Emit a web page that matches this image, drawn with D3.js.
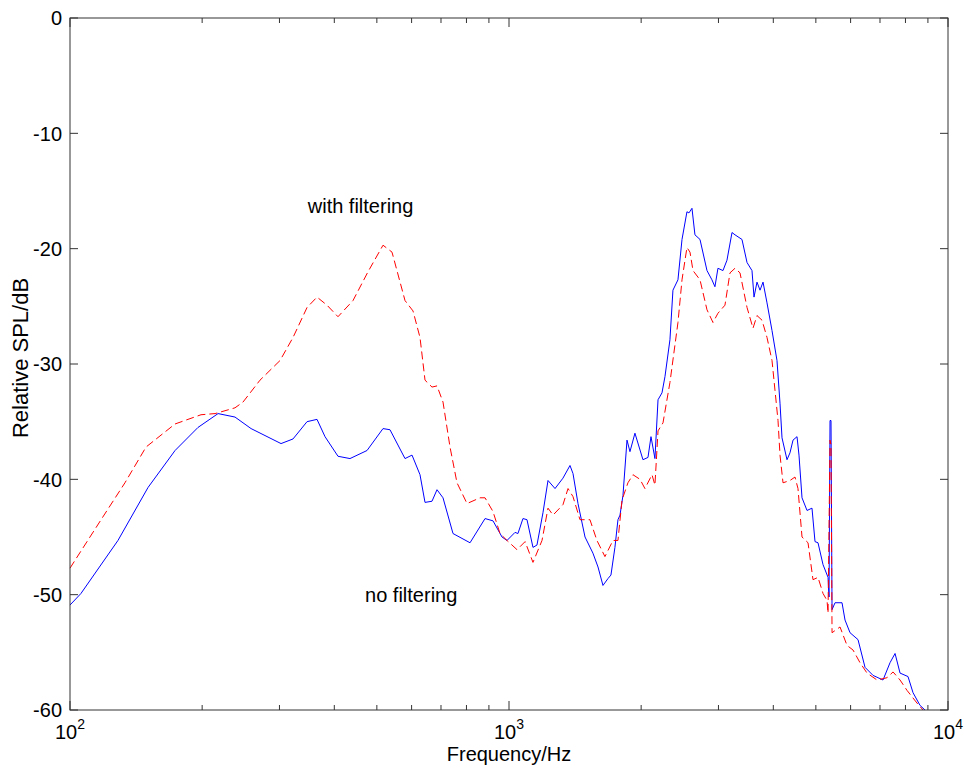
<!DOCTYPE html>
<html>
<head>
<meta charset="utf-8">
<script src="https://cdn.jsdelivr.net/npm/d3@7"></script>
<style>
  body { margin: 0; background: #fff; }
  text { font-family: "Liberation Sans", Arial, sans-serif; fill: #000; }
</style>
</head>
<body>
<div id="chart"></div>
<script>
// --- data ---
const freqNo = [100, 105.9, 128.6, 150.6, 173.5, 195.7, 217.4, 237.6, 258.5, 302.5, 322.1, 346.7, 365.3, 381.0, 407.8,
  434.3, 474.9, 516.4, 535.7, 579.6, 601.3, 627.0, 643.7, 667.7, 685.5, 707.4, 745.5, 815.1, 881.9, 919.6, 964.0,
  989.6, 1032, 1048, 1076, 1099, 1134, 1158, 1195, 1227, 1273, 1327, 1377, 1399, 1436, 1490, 1553, 1595, 1637,
  1681, 1707, 1743, 1771, 1790, 1818, 1857, 1886, 1936, 2019, 2073, 2106, 2150, 2185, 2231, 2266, 2326, 2363,
  2426, 2478, 2543, 2570, 2611, 2652, 2723, 2825, 2899, 2945, 2992, 3072, 3137, 3221, 3272, 3394, 3485, 3577,
  3615, 3672, 3731, 3790, 3870, 3973, 4078, 4143, 4187, 4298, 4366, 4436, 4530, 4577, 4650, 4774, 4900, 4978,
  5057, 5192, 5330, 5358, 5386, 5414, 5443, 5529, 5736, 5827, 5982, 6238, 6471, 6749, 7112, 7378, 7575, 7776,
  8108, 8324, 8635, 8865];
const splNo = [-50.9, -49.9, -45.3, -40.7, -37.5, -35.5, -34.3, -34.6, -35.6, -36.9, -36.5, -35.0, -34.8, -36.3, -38.0,
  -38.2, -37.5, -35.6, -35.7, -38.2, -37.9, -39.6, -42.0, -41.9, -40.9, -41.6, -44.7, -45.5, -43.4, -43.6, -45.0,
  -45.3, -44.6, -44.7, -43.4, -43.5, -45.9, -45.7, -42.9, -40.1, -40.8, -39.9, -38.8, -39.5, -42.1, -45.0, -46.4, -47.6, -49.2,
  -48.6, -48.3, -45.9, -43.5, -43.1, -41.4, -36.6, -37.6, -36.0, -38.3, -38.1, -36.3, -38.2, -33.1, -32.5, -31.1, -27.9, -23.6,
  -22.7, -19.2, -16.8, -16.9, -16.5, -18.8, -19.2, -21.9, -22.7, -23.3, -21.7, -21.9, -21.0, -18.6, -18.8, -19.2, -21.2, -21.9,
  -24.2, -22.9, -23.6, -22.9, -24.7, -27.1, -29.7, -33.4, -36.4, -38.3, -37.7, -36.6, -36.3, -37.9, -41.6, -42.7, -42.5, -45.4,
  -45.5, -47.4, -48.5, -50.2, -34.9, -34.9, -51.3, -50.7, -50.7, -52.2, -53.3, -53.9, -56.3, -57.0, -57.4, -55.9, -55.1, -56.8,
  -57.1, -58.5, -59.6, -60.0];

const freqWith = [100, 117.7, 133.4, 149.0, 173.5, 198.8, 214.0, 237.6, 247.8, 270.9, 300.9, 322.1, 346.7, 365.3, 385.0,
  407.8, 441.2, 477.4, 516.4, 541.4, 579.6, 604.4, 627.0, 643.7, 667.7, 685.5, 707.4, 733.9, 761.3, 802.4, 859.0,
  881.9, 919.6, 953.9, 989.6, 1043, 1088, 1134, 1189, 1227, 1260, 1327, 1363, 1399, 1451, 1529, 1586, 1654, 1725,
  1771, 1809, 1866, 1916, 1988, 2040, 2117, 2150, 2185, 2243, 2326, 2426, 2478, 2543, 2584, 2625, 2723, 2825,
  2915, 2992, 3104, 3187, 3272, 3359, 3485, 3596, 3672, 3770, 3870, 3973, 4036, 4100, 4143, 4209, 4366, 4482,
  4553, 4650, 4799, 4926, 5057, 5192, 5302, 5330, 5386, 5414, 5443, 5676, 5888, 6077, 6304, 6540, 6892, 7263,
  7496, 7776, 8066, 8500, 8772];
const splWith = [-47.7, -43.5, -40.3, -37.2, -35.2, -34.4, -34.3, -33.8, -33.3, -31.4, -29.7, -27.7, -25.1, -24.2, -24.9,
  -25.9, -24.5, -22.0, -19.7, -20.3, -24.5, -25.4, -27.7, -31.4, -32.0, -31.9, -33.3, -37.2, -40.3, -42.1, -41.6,
  -41.6, -42.8, -44.7, -45.3, -46.1, -45.4, -47.2, -45.3, -42.5, -43.1, -42.2, -40.8, -41.5, -43.5, -43.5, -45.3, -46.7, -45.3,
  -45.3, -41.8, -40.3, -39.6, -40.0, -40.8, -39.6, -40.5, -35.8, -35.1, -31.6, -26.4, -22.7, -19.9, -20.3, -21.9, -22.7, -25.3,
  -26.4, -25.6, -24.9, -22.1, -21.7, -22.1, -25.1, -26.9, -25.8, -26.2, -27.7, -29.7, -32.3, -34.9, -37.9, -40.3, -40.1, -39.8,
  -40.8, -45.0, -45.5, -48.7, -48.5, -49.9, -50.5, -51.6, -36.6, -37.0, -53.3, -52.8, -54.4, -54.8, -55.9, -56.8, -57.4, -57.2,
  -56.7, -57.4, -58.3, -59.4, -60.0];

const yTicks = [0, -10, -20, -30, -40, -50, -60];
const xTicks = [100, 1000, 10000];

// --- plot sizing ---
const W = 964, H = 772;
const margin = { top: 18, right: 16, bottom: 62, left: 70 };
const width = W - margin.left - margin.right;
const height = H - margin.top - margin.bottom;

const x = d3.scaleLog().domain([100, 10000]).range([0, width]);
const y = d3.scaleLinear().domain([-60, 0]).range([height, 0]);

const svg = d3.select('#chart').append('svg')
  .attr('width', W)
  .attr('height', H);

const g = svg.append('g')
  .attr('transform', `translate(${margin.left},${margin.top})`);

// minor decade ticks
const minor = x.ticks().filter(d => xTicks.indexOf(d) < 0);
const axisColor = '#333';

// x ticks (bottom + top, pointing in)
g.selectAll('.xmaj-b').data(xTicks).enter().append('line')
  .attr('x1', d => x(d)).attr('x2', d => x(d))
  .attr('y1', height).attr('y2', height - 9)
  .attr('stroke', axisColor);
g.selectAll('.xmaj-t').data(xTicks).enter().append('line')
  .attr('x1', d => x(d)).attr('x2', d => x(d))
  .attr('y1', 0).attr('y2', 9)
  .attr('stroke', axisColor);
g.selectAll('.xmin-b').data(minor).enter().append('line')
  .attr('x1', d => x(d)).attr('x2', d => x(d))
  .attr('y1', height).attr('y2', height - 5)
  .attr('stroke', axisColor);
g.selectAll('.xmin-t').data(minor).enter().append('line')
  .attr('x1', d => x(d)).attr('x2', d => x(d))
  .attr('y1', 0).attr('y2', 5)
  .attr('stroke', axisColor);

// y ticks (left + right)
g.selectAll('.yl').data(yTicks).enter().append('line')
  .attr('x1', 0).attr('x2', 8)
  .attr('y1', d => y(d)).attr('y2', d => y(d))
  .attr('stroke', axisColor);
g.selectAll('.yr').data(yTicks).enter().append('line')
  .attr('x1', width).attr('x2', width - 8)
  .attr('y1', d => y(d)).attr('y2', d => y(d))
  .attr('stroke', axisColor);

// tick labels
g.selectAll('.ylab').data(yTicks).enter().append('text')
  .attr('x', -8)
  .attr('y', d => y(d))
  .attr('dy', '0.36em')
  .attr('text-anchor', 'end')
  .style('font-size', '20px')
  .text(d => d);

const xl = g.selectAll('.xlab').data(xTicks).enter().append('text')
  .attr('x', d => x(d))
  .attr('y', height + 29)
  .attr('text-anchor', 'middle')
  .style('font-size', '20px');
xl.append('tspan').text('10');
xl.append('tspan')
  .attr('dy', -10)
  .style('font-size', '14px')
  .text(d => Math.round(Math.log10(d)));

// curves
const line = d3.line()
  .x(d => x(d[0]))
  .y(d => y(d[1]));

g.append('path')
  .datum(d3.zip(freqNo, splNo))
  .attr('fill', 'none')
  .attr('stroke', '#0000ff')
  .attr('stroke-width', 1)
  .attr('d', line);

g.append('path')
  .datum(d3.zip(freqWith, splWith))
  .attr('fill', 'none')
  .attr('stroke', '#ff0000')
  .attr('stroke-width', 1)
  .attr('stroke-dasharray', '8,4')
  .attr('d', line);

// box
g.append('rect')
  .attr('width', width)
  .attr('height', height)
  .attr('fill', 'none')
  .attr('stroke', axisColor);

// annotations
g.append('text')
  .attr('x', x(348)).attr('y', y(-16.9))
  .style('font-size', '20px')
  .text('with filtering');
g.append('text')
  .attr('x', x(470)).attr('y', y(-50.6))
  .style('font-size', '20px')
  .text('no filtering');

// axis labels
svg.append('text')
  .attr('x', margin.left + width / 2)
  .attr('y', H - 11)
  .attr('text-anchor', 'middle')
  .style('font-size', '20px')
  .text('Frequency/Hz');

svg.append('text')
  .attr('transform', `translate(28,${margin.top + height / 2 - 6}) rotate(-90)`)
  .attr('text-anchor', 'middle')
  .style('font-size', '22px')
  .text('Relative SPL/dB');
</script>
</body>
</html>
